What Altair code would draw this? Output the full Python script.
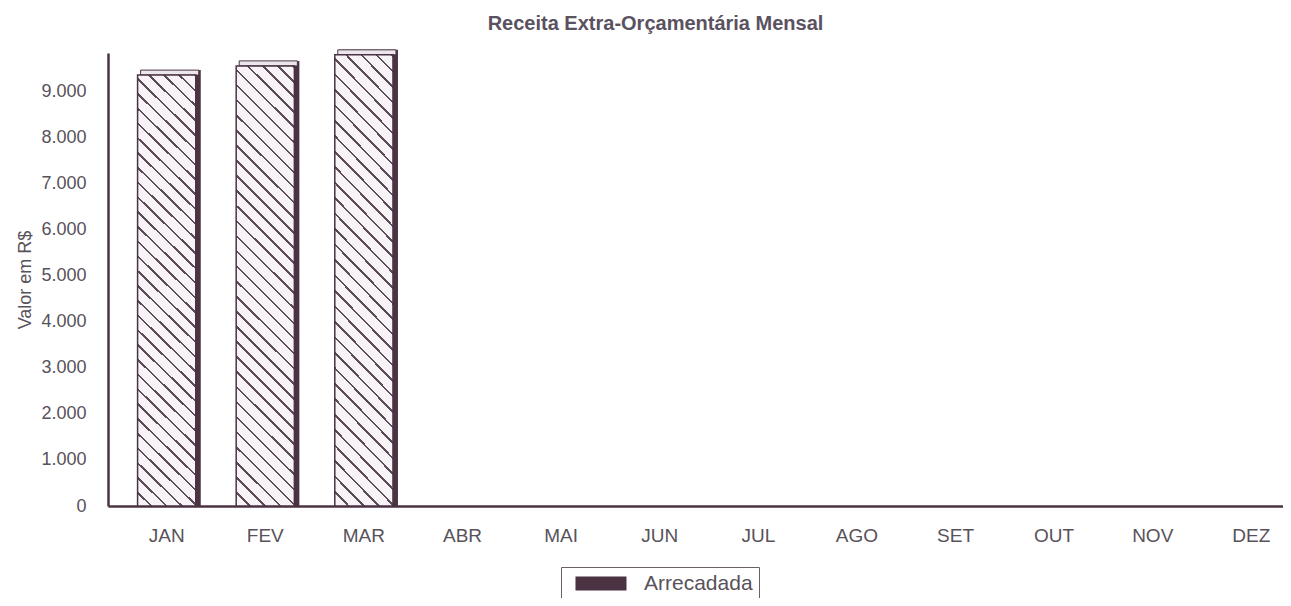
import altair as alt
import pandas as pd

meses = ["JAN", "FEV", "MAR", "ABR", "MAI", "JUN", "JUL", "AGO", "SET", "OUT", "NOV", "DEZ"]
valores = [9350, 9550, 9790, 0, 0, 0, 0, 0, 0, 0, 0, 0]
serie = "Arrecadada"
titulo = "Receita Extra-Orçamentária Mensal"
titulo_y = "Valor em R$"
ticks_y = [0, 1000, 2000, 3000, 4000, 5000, 6000, 7000, 8000, 9000]

df = pd.DataFrame({"mes": meses, "valor": valores, "serie": [serie] * len(meses)})

FONT = "Liberation Sans"
TXT = "#58525a"
DARK = "#4b3344"
LIGHT = "#f7f3f6"
HATCH = "#5c4c5a"

# diagonal "\" hatch drawn as a striped linear gradient in the bar's bounding box
BW, BH = 58.0, 441.0          # approximate bar box (px) used only to orient the stripes
wr = BW / BH
s = (1 + wr) / (wr * wr + 1)
gx2, gy2 = s * wr, 1 - s
N = 33
f = 0.17
stops = []
for k in range(N):
    a = k / N
    b = (k + 1 - f) / N
    c = (k + 1) / N
    stops += [
        alt.GradientStop(offset=round(a, 5), color=LIGHT),
        alt.GradientStop(offset=round(b, 5), color=LIGHT),
        alt.GradientStop(offset=round(b, 5), color=HATCH),
        alt.GradientStop(offset=round(min(c, 1.0), 5), color=HATCH),
    ]
hatch = alt.Gradient(gradient="linear", stops=stops, x1=0, y1=1, x2=round(gx2, 5), y2=round(gy2, 5))

x_enc = alt.X(
    "mes:N",
    sort=meses,
    scale=alt.Scale(domain=meses, range=[0, 1202], paddingInner=0.41, paddingOuter=0.3),
    axis=alt.Axis(
        title=None, labelAngle=0, ticks=False, labelPadding=20,
        labelFontSize=19, labelFont=FONT, labelColor=TXT,
        domainColor=DARK, domainWidth=2.5, grid=False,
    ),
)
y_scale = alt.Scale(domain=[0, 9830], nice=False, zero=True)
y_enc = alt.Y(
    "valor:Q",
    scale=y_scale,
    axis=alt.Axis(
        title=titulo_y, values=ticks_y,
        labelExpr="replace(format(datum.value, ','), ',', '.')",
        ticks=False, labelPadding=22, labelFontSize=18, labelFont=FONT, labelColor=TXT,
        titleFontSize=18, titleFont=FONT, titleColor=TXT, titleFontWeight="normal",
        titlePadding=6, domainColor=DARK, domainWidth=2.5, grid=False,
    ),
)

base = alt.Chart(df).transform_filter("datum.valor > 0")

side = base.mark_bar(xOffset=5, yOffset=-5, y2Offset=0).encode(
    x=x_enc,
    y=y_enc,
    y2=alt.datum(0),
    color=alt.Color(
        "serie:N",
        scale=alt.Scale(domain=[serie], range=[DARK]),
        legend=alt.Legend(
            title=None, orient="none", legendX=453, legendY=514,
            direction="horizontal", symbolType="M-0.29,-1H7V1H-0.29Z", symbolSize=196,
            symbolStrokeWidth=0, symbolOpacity=1, labelOffset=56,
            labelFontSize=21, labelFont=FONT, labelColor=TXT,
            strokeColor="#6a6068", fillColor="white", padding=6,
        ),
    ),
)

cap = base.mark_bar(fill="#ece7eb", stroke=DARK, strokeWidth=1, xOffset=3, yOffset=-5, y2Offset=0).encode(
    x=x_enc, y=alt.Y("valor:Q", scale=y_scale), y2="valor:Q"
)

front = base.mark_bar(fill=hatch, stroke=DARK, strokeWidth=1.5).encode(x=x_enc, y=y_enc)

chart = (
    alt.layer(side, cap, front)
    .properties(
        width=1175,
        height=453,
        title=alt.Title(
            titulo, fontSize=20, font=FONT, fontWeight="bold", color="#5a5260",
            anchor="middle", dx=-40, offset=15,
        ),
        autosize=alt.AutoSizeParams(type="none"),
        padding={"left": 100, "top": 45, "right": 0, "bottom": 92},
    )
    .configure_view(stroke=None)
)

chart.save("out.html", embed_options={"renderer": "svg", "actions": False})
